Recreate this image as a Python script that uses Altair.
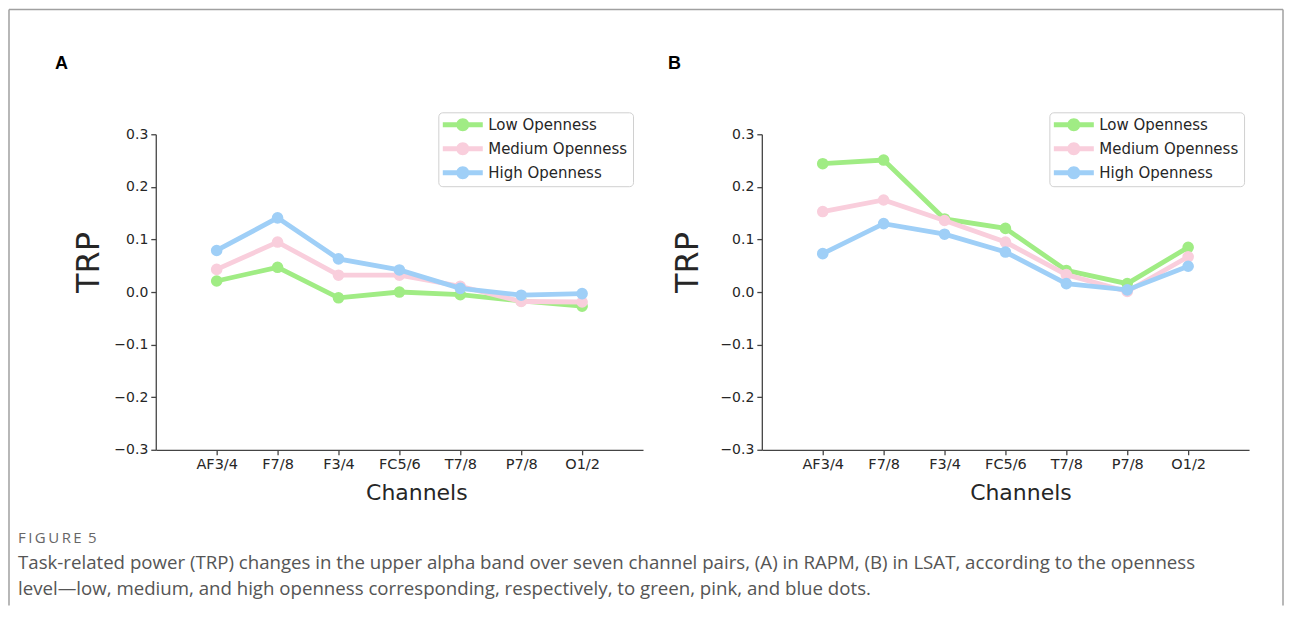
import altair as alt
import pandas as pd

channels = ["AF3/4", "F7/8", "F3/4", "FC5/6", "T7/8", "P7/8", "O1/2"]
series_names = ["Low Openness", "Medium Openness", "High Openness"]
colors = ["#A0EC84", "#F9CEDC", "#9FCFF7"]

a_low = [0.021, 0.047, -0.011, 0.000, -0.005, -0.017, -0.027]
a_med = [0.043, 0.095, 0.032, 0.032, 0.011, -0.018, -0.019]
a_high = [0.079, 0.141, 0.063, 0.042, 0.007, -0.006, -0.003]

b_low = [0.244, 0.251, 0.139, 0.121, 0.041, 0.016, 0.085]
b_med = [0.153, 0.175, 0.136, 0.095, 0.033, 0.001, 0.067]
b_high = [0.073, 0.130, 0.110, 0.076, 0.016, 0.004, 0.049]

y_ticks = [-0.3, -0.2, -0.1, 0.0, 0.1, 0.2, 0.3]

caption_head = "F\u2009I\u2009G\u2009U\u2009R\u2009E\u00a0\u20095"
caption_line1 = ("Task-related power (TRP) changes in the upper alpha band over seven channel pairs, "
                 "(A) in RAPM, (B) in LSAT, according to the openness")
caption_line2 = "level\u2014low, medium, and high openness corresponding, respectively, to green, pink, and blue dots."

SYMBOL = ("M-2.86,-0.36L2.86,-0.36L2.86,0.36L-2.86,0.36Z "
          "M-0.93,0A0.93,0.93 0 1,1 0.93,0A0.93,0.93 0 1,1 -0.93,0Z")

TEXT = "#262626"


def panel_df(low, med, high):
    rows = []
    for name, vals in zip(series_names, [low, med, high]):
        for ch, v in zip(channels, vals):
            rows.append({"channel": ch, "series": name, "trp": v})
    return pd.DataFrame(rows)


def text_layer(txt, x, y, **kw):
    return alt.Chart(alt.Data(values=[{"t": txt}])).mark_text(align="left", baseline="alphabetic", **kw).encode(
        text="t:N", x=alt.value(x), y=alt.value(y))


def make_panel(df, letter, legend_x, ytitle_x, xtitle_x, letter_x, extras):
    base = alt.Chart(df).encode(
        x=alt.X("channel:N", sort=channels,
                scale=alt.Scale(type="point", padding=1),
                axis=alt.Axis(title="Channels", labelAngle=0, titleX=xtitle_x, titleY=43,
                              titleBaseline="middle", titleAlign="center", titleFontSize=22,
                              labelFontSize=14.5)),
        y=alt.Y("trp:Q", scale=alt.Scale(domain=[-0.3, 0.3], nice=False, zero=False),
                axis=alt.Axis(title="TRP", values=y_ticks, format=".1f", titleX=ytitle_x, titleY=128,
                              titleAngle=270, titleBaseline="middle", titleAlign="center",
                              titleFontSize=32, labelFontSize=14)),
    )
    color_enc = alt.Color("series:N", scale=alt.Scale(domain=series_names, range=colors),
                          legend=alt.Legend(title=None, orient="none", legendX=legend_x, legendY=-22,
                                            symbolType=SYMBOL, symbolSize=196, symbolStrokeWidth=0,
                                            symbolOpacity=1, symbolOffset=12,
                                            labelFont="DejaVu Sans", labelFontSize=15,
                                            labelColor=TEXT, labelOffset=18, rowPadding=8, padding=5,
                                            fillColor="white", strokeColor="#d0d0d0", cornerRadius=4))
    layers = []
    for name, c in zip(series_names, colors):
        sub = base.transform_filter(alt.datum.series == name)
        layers.append(sub.mark_line(color=c, strokeWidth=4.8))
        layers.append(sub.mark_circle(size=135, opacity=1).encode(color=color_enc))
    layers.append(text_layer(letter, letter_x, -65, font="Liberation Sans", fontWeight="bold",
                             fontSize=18, color="black"))
    layers.extend(extras)
    return alt.layer(*layers).properties(width=488, height=316)


border = "#a0a0a0"
one = alt.Data(values=[{"k": 1}])
extras_a = [
    alt.Chart(one).mark_rule(color=border, strokeWidth=1.5).encode(
        x=alt.value(-147), x2=alt.value(1129), y=alt.value(-125)),
    alt.Chart(one).mark_rule(color=border, strokeWidth=1.5).encode(
        x=alt.value(-147), y=alt.value(-125), y2=alt.value(472)),
    alt.Chart(one).mark_rule(color=border, strokeWidth=1.5).encode(
        x=alt.value(1129), y=alt.value(-125), y2=alt.value(472)),
    text_layer(caption_head, -138, 409, font="Open Sans", fontSize=15, color="#666666"),
    text_layer(caption_line1, -138, 435, font="Open Sans", fontSize=18.7, color="#555555"),
    text_layer(caption_line2, -138, 461, font="Open Sans", fontSize=18.7, color="#555555"),
]

panel_a = make_panel(panel_df(a_low, a_med, a_high), "A", 283, -67, 261, -101, extras_a)
panel_b = make_panel(panel_df(b_low, b_med, b_high), "B", 288, -74, 259, -94, [])

chart = alt.hconcat(panel_a, panel_b, spacing=119, bounds="flush").resolve_scale(
    color="independent").resolve_legend(color="independent").properties(
    padding=0, background="white").configure_view(strokeOpacity=0).configure_axis(
    labelFont="DejaVu Sans", labelFontSize=13.5, labelColor=TEXT, titleFont="DejaVu Sans",
    titleFontWeight="normal", titleColor=TEXT, domainColor="#444444", domainWidth=1.3,
    tickColor="#444444", tickWidth=1.3, tickSize=5, grid=False, labelPadding=3)

chart.save("out.html", embed_options={"renderer": "svg", "actions": False})
